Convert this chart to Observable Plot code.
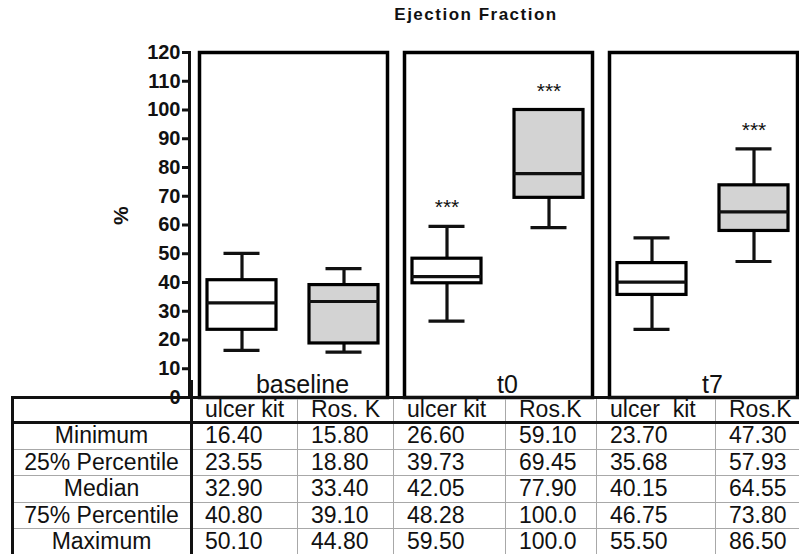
<!DOCTYPE html>
<html><head><meta charset="utf-8">
<script src="https://cdn.jsdelivr.net/npm/d3@7"></script>
<script src="https://cdn.jsdelivr.net/npm/@observablehq/plot@0.6"></script>
<style>
body{margin:0;background:#fff;font-family:"Liberation Sans",Arial,sans-serif;}
#wrap{position:relative;width:799px;height:554px;overflow:hidden;background:#fff;}
#title{position:absolute;top:5px;left:476px;transform:translateX(-50%);font-weight:bold;font-size:17px;letter-spacing:1.5px;white-space:nowrap;color:#111;}
#chart{position:absolute;top:30px;left:0;}
#tbl{position:absolute;top:0;left:0;width:799px;height:554px;}
.ln{position:absolute;}
.cell{position:absolute;font-size:23px;color:#111;white-space:pre;}
</style></head>
<body><div id="wrap"><div id="title">Ejection Fraction</div><div id="chart"></div><div id="tbl"></div></div>
<script>
// ---- data ----
const times = ["baseline", "t0", "t7"];
const groups = ["ulcer kit", "Ros.K"];
const headerLabels = ["ulcer kit", "Ros. K", "ulcer kit", "Ros.K", "ulcer  kit", "Ros.K"];
const rowLabels = ["Minimum", "25% Percentile", "Median", "75% Percentile", "Maximum"];
const minimum = [16.40, 15.80, 26.60, 59.10, 23.70, 47.30];
const q1 = [23.55, 18.80, 39.73, 69.45, 35.68, 57.93];
const median = [32.90, 33.40, 42.05, 77.90, 40.15, 64.55];
const q3 = [40.80, 39.10, 48.28, 100.0, 46.75, 73.80];
const maximum = [50.10, 44.80, 59.50, 100.0, 55.50, 86.50];
const stars = ["", "", "***", "***", "", "***"];
const yTicks = [0, 10, 20, 30, 40, 50, 60, 70, 80, 90, 100, 110, 120];
const yLabel = "%";

const rows = times.flatMap((t, i) => groups.map((g, j) => {
  const k = i * 2 + j;
  return {time: t, group: g, min: minimum[k], q1: q1[k], med: median[k], q3: q3[k], max: maximum[k], star: stars[k]};
}));

const SW = 3.2;
const chart = Plot.plot({
  width: 799, height: 377,
  marginTop: 22, marginBottom: 10, marginLeft: 199, marginRight: 2,
  fx: {domain: times, paddingInner: 0.083, paddingOuter: 0, axis: null, label: null},
  x: {domain: groups, paddingInner: 0.32, paddingOuter: 0.078, axis: null},
  y: {domain: [0, 120], axis: null},
  color: {domain: groups, range: ["#ffffff", "#d3d3d3"]},
  style: {fontFamily: "Liberation Sans, Arial, sans-serif", background: "transparent", overflow: "visible", color: "#111"},
  marks: [
    Plot.ruleX(rows, {fx: "time", x: "group", y1: "min", y2: "q1", strokeWidth: SW}),
    Plot.ruleX(rows, {fx: "time", x: "group", y1: "q3", y2: "max", strokeWidth: SW}),
    Plot.tickY(rows, {fx: "time", x: "group", y: "min", strokeWidth: SW, insetLeft: 16.5, insetRight: 16.5}),
    Plot.tickY(rows, {fx: "time", x: "group", y: "max", strokeWidth: SW, insetLeft: 16.5, insetRight: 16.5}),
    Plot.barY(rows, {fx: "time", x: "group", y1: "q1", y2: "q3", fill: "group", stroke: "black", strokeWidth: SW}),
    Plot.tickY(rows, {fx: "time", x: "group", y: "med", strokeWidth: SW}),
    Plot.text(rows.filter(d => d.star), {fx: "time", x: "group", y: "max", text: "star", dy: -19, fontSize: 21}),
    Plot.text(times, {fx: d => d, text: d => d, frameAnchor: "bottom", lineAnchor: "bottom", dy: -5, dx: 9, fontSize: 25}),
    Plot.frame({stroke: "black", strokeWidth: 3.5}),
    Plot.axisY({ticks: yTicks, tickSize: 7, tickPadding: 2, dx: -10, fontSize: 20, fontWeight: "bold", strokeWidth: 3, label: null}),
    Plot.text([yLabel], {text: d => d, frameAnchor: "left", dx: -78, rotate: -90, fontSize: 21, fontWeight: "bold", facetAnchor: "left"}),
    Plot.frame({anchor: "left", dx: -10, strokeWidth: 3, facetAnchor: "left"})
  ]
});
document.getElementById("chart").appendChild(chart);

// ---- table below the chart ----
const tbl = document.getElementById("tbl");
const xs = [12, 191, 297, 393, 505, 596, 715, 799];
const ys = [397, 422, 448.5, 475, 501.5, 528, 554];
function line(x, y, w, h, c) {
  const d = document.createElement("div");
  d.className = "ln";
  Object.assign(d.style, {left: x + "px", top: y + "px", width: w + "px", height: h + "px", background: c});
  tbl.appendChild(d);
}
function cell(text, x0, x1, y0, y1, align) {
  const d = document.createElement("div");
  d.className = "cell";
  d.textContent = text;
  Object.assign(d.style, {left: x0 + "px", top: y0 + "px", width: (x1 - x0) + "px", height: (y1 - y0) + "px",
    lineHeight: (y1 - y0) + "px", textAlign: align, boxSizing: "border-box", paddingLeft: align === "left" ? "14px" : "0"});
  tbl.appendChild(d);
}
// thin grid
for (let i = 2; i < xs.length - 1; i++) line(xs[i], ys[0], 1, ys[ys.length - 1] - ys[0], "#a8a8a8");
for (let j = 2; j < ys.length - 1; j++) line(xs[0], ys[j], xs[xs.length - 1] - xs[0], 1, "#a8a8a8");
// thick lines
line(xs[0], ys[0] - 1, xs[xs.length - 1] - xs[0], 3, "#111");
line(xs[0], ys[1] - 1, xs[xs.length - 1] - xs[0], 3, "#111");
line(xs[0] - 1, ys[0] - 1, 3, ys[ys.length - 1] - ys[0] + 1, "#111");
line(xs[1] - 1, 380, 3, ys[ys.length - 1] - 380, "#111");
// header
headerLabels.forEach((h, c) => cell(h, xs[c + 1], xs[c + 2], ys[0], ys[1], "left"));
// rows
const stats = [minimum, q1, median, q3, maximum];
rowLabels.forEach((r, i) => {
  cell(r, xs[0], xs[1], ys[i + 1], ys[i + 2], "center");
  stats[i].forEach((v, c) => cell(v.toPrecision(4), xs[c + 1], xs[c + 2], ys[i + 1], ys[i + 2], "left"));
});
</script>
</body></html>
